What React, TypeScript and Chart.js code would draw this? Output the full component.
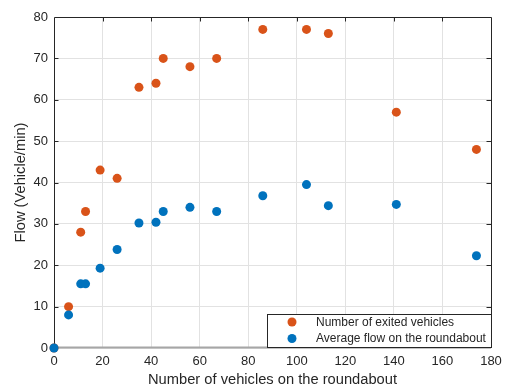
import React, { useEffect, useRef } from "react";
import { Chart, registerables } from "chart.js";

Chart.register(...registerables);

const vehiclesOnRoundabout = [0, 6, 11, 13, 19, 26, 35, 42, 45, 56, 67, 86, 104, 113, 141, 174];
const exitedVehicles = [0, 10, 28, 33, 43, 41, 63, 64, 70, 68, 70, 77, 77, 76, 57, 48];
const averageFlow = [0, 8, 15.5, 15.5, 19.3, 23.8, 30.2, 30.4, 33, 34, 33, 36.8, 39.5, 34.4, 34.7, 22.3];
const seriesNames = ["Number of exited vehicles", "Average flow on the roundabout"];
const seriesColors = ["#D95319", "#0072BD"];
const xTitle = "Number of vehicles on the roundabout";
const yTitle = "Flow (Vehicle/min)";

const FONT = '"Liberation Sans", Arial, Helvetica, sans-serif';
const TEXT = "#262626";

const frameLegendPlugin = {
  id: "frameLegend",
  beforeDatasetsDraw(chart: any) {
    const { ctx, chartArea } = chart;
    const { left, right, top, bottom } = chartArea;
    const xs = chart.scales.x;
    const ys = chart.scales.y;
    ctx.save();
    ctx.strokeStyle = "#a6a6a6";
    ctx.lineWidth = 2;
    ctx.beginPath();
    ctx.moveTo(left, bottom - 0.5);
    ctx.lineTo(right, bottom - 0.5);
    ctx.stroke();
    ctx.strokeStyle = TEXT;
    ctx.lineWidth = 1;
    ctx.beginPath();
    ctx.moveTo(Math.round(left) + 0.5, bottom);
    ctx.lineTo(Math.round(left) + 0.5, Math.round(top) + 0.5);
    ctx.lineTo(Math.round(right) + 0.5, Math.round(top) + 0.5);
    ctx.lineTo(Math.round(right) + 0.5, bottom);
    ctx.stroke();
    const tl = 4.5;
    ctx.beginPath();
    xs.ticks.forEach((t: any) => {
      const px = Math.round(xs.getPixelForValue(t.value)) + 0.5;
      if (px <= left + 1 || px >= right - 1) return;
      ctx.moveTo(px, top);
      ctx.lineTo(px, top + tl);
    });
    ys.ticks.forEach((t: any) => {
      const py = Math.round(ys.getPixelForValue(t.value)) + 0.5;
      if (py <= top + 1 || py >= bottom - 1) return;
      ctx.moveTo(left, py);
      ctx.lineTo(left + tl, py);
      ctx.moveTo(right, py);
      ctx.lineTo(right - tl, py);
    });
    ctx.stroke();
    ctx.restore();
  },
  afterDraw(chart: any) {
    const { ctx, chartArea } = chart;
    const right = Math.round(chartArea.right) + 0.5;
    const bottom = Math.round(chartArea.bottom) - 0.5;
    const boxLeft = 267.5;
    const boxTop = 314.5;
    ctx.save();
    ctx.fillStyle = "#ffffff";
    ctx.fillRect(boxLeft, boxTop, right - boxLeft, bottom - boxTop);
    ctx.strokeStyle = TEXT;
    ctx.lineWidth = 1;
    ctx.strokeRect(boxLeft, boxTop, right - boxLeft, bottom - boxTop);
    ctx.font = `12px ${FONT}`;
    ctx.textBaseline = "middle";
    ctx.textAlign = "left";
    const rows = [322, 338.5];
    seriesNames.forEach((name, i) => {
      ctx.fillStyle = seriesColors[i];
      ctx.beginPath();
      ctx.arc(292, rows[i], 4.5, 0, Math.PI * 2);
      ctx.fill();
      ctx.fillStyle = TEXT;
      ctx.fillText(name, 316, rows[i] + 0.5);
    });
    ctx.restore();
  },
};

export default function App() {
  const canvasRef = useRef<HTMLCanvasElement | null>(null);

  useEffect(() => {
    document.body.style.margin = "0";
    const canvas = canvasRef.current;
    if (!canvas) return;
    const chart = new Chart(canvas, {
      type: "scatter",
      data: {
        datasets: [
          {
            label: seriesNames[0],
            data: vehiclesOnRoundabout.map((x, i) => ({ x, y: exitedVehicles[i] })),
            backgroundColor: seriesColors[0],
            borderColor: seriesColors[0],
            borderWidth: 0,
            pointRadius: 4.5,
            clip: false as any,
            order: 1,
          },
          {
            label: seriesNames[1],
            data: vehiclesOnRoundabout.map((x, i) => ({ x, y: averageFlow[i] })),
            backgroundColor: seriesColors[1],
            borderColor: seriesColors[1],
            borderWidth: 0,
            pointRadius: 4.5,
            clip: false as any,
            order: 0,
          },
        ],
      },
      options: {
        animation: false,
        responsive: false,
        devicePixelRatio: 1,
        layout: { padding: { top: 17, right: 15, left: 0, bottom: 0 } },
        plugins: { legend: { display: false }, tooltip: { enabled: false } },
        scales: {
          x: {
            type: "linear",
            min: 0,
            max: 180,
            ticks: { stepSize: 20, color: TEXT, font: { family: FONT, size: 13 }, padding: 6, maxRotation: 0 },
            grid: { color: "#e2e2e2", drawTicks: false },
            border: { display: false },
            title: {
              display: true,
              text: xTitle,
              color: TEXT,
              font: { family: FONT, size: 14.7, lineHeight: 1 },
              padding: 0,
            },
            afterFit: (s: any) => {
              s.height = 39;
              s.paddingLeft = 0;
              s.paddingRight = 0;
            },
          },
          y: {
            type: "linear",
            min: 0,
            max: 80,
            ticks: { stepSize: 10, color: TEXT, font: { family: FONT, size: 13 }, padding: 6 },
            grid: { color: "#e2e2e2", drawTicks: false },
            border: { display: false },
            title: {
              display: true,
              text: yTitle,
              color: TEXT,
              font: { family: FONT, size: 14.7, lineHeight: 1 },
              padding: { top: 14, bottom: 0 },
            },
            afterFit: (s: any) => {
              s.width = 54;
              s.paddingTop = 0;
              s.paddingBottom = 0;
            },
          },
        },
      },
      plugins: [frameLegendPlugin],
    });
    return () => chart.destroy();
  }, []);

  return (
    <div style={{ width: 506, height: 387 }}>
      <canvas ref={canvasRef} width={506} height={387} style={{ display: "block" }} />
    </div>
  );
}
